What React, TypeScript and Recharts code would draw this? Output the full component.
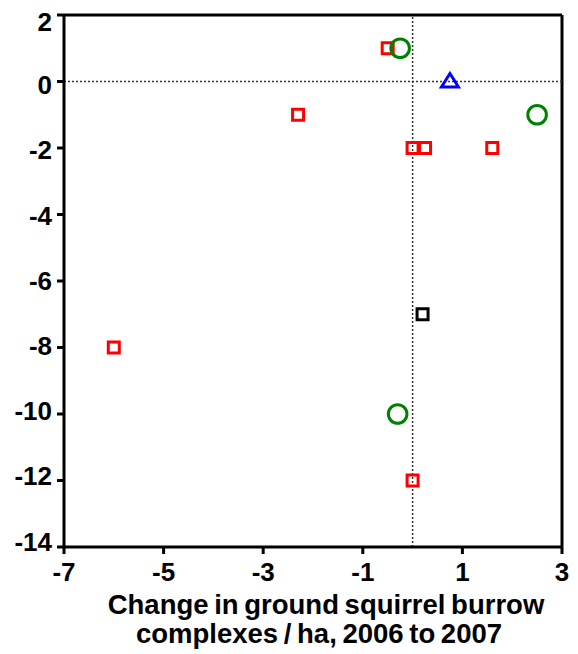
import { ReferenceLine, Scatter, ScatterChart, XAxis, YAxis } from 'recharts'

const FONT = '"Liberation Sans", Arial, sans-serif'

// site groups: change in burrow complexes (x) vs change in count (y)
const redX = [-0.5, -2.3, 0, 0.25, 1.6, -6, 0]
const redY = [1, -1, -2, -2, -2, -8, -12]
const greenX = [-0.25, 2.5, -0.3]
const greenY = [1, -1, -10]
const blueX = [0.75]
const blueY = [0]
const blackX = [0.2]
const blackY = [-7]

const xTicks = [-7, -5, -3, -1, 1, 3]
const yTicks = [-14, -12, -10, -8, -6, -4, -2, 0, 2]

const pts = (xs: number[], ys: number[]) => xs.map((x, i) => ({ x, y: ys[i] }))

const red = pts(redX, redY)
const green = pts(greenX, greenY)
const blue = pts(blueX, blueY)
const black = pts(blackX, blackY)

const square = (color: string) => (p: any) => (
  <rect x={p.cx - 5.5} y={p.cy - 5.5} width={11} height={11} fill="none" stroke={color} strokeWidth={3} />
)
const circle = (p: any) => <circle cx={p.cx} cy={p.cy} r={9.3} fill="none" stroke="#008000" strokeWidth={3} />
const triangle = (p: any) => (
  <path
    d={`M${p.cx},${p.cy - 8} L${p.cx + 8.5},${p.cy + 5.5} L${p.cx - 8.5},${p.cy + 5.5} Z`}
    fill="none"
    stroke="#0000ff"
    strokeWidth={3}
    strokeLinejoin="miter"
  />
)

// labels in the original drift slightly upward relative to their ticks toward the bottom
const YTick = ({ x, y, payload }: any) => (
  <text
    x={x}
    y={y}
    dy={14 - (2 - payload.value) * 0.65}
    textAnchor="end"
    fontFamily={FONT}
    fontWeight="bold"
    fontSize={26}
    fill="#000"
  >
    {payload.value}
  </text>
)

const XTick = ({ x, y, payload }: any) => (
  <text x={x} y={y} dy={19} textAnchor="middle" fontFamily={FONT} fontWeight="bold" fontSize={26} fill="#000">
    {payload.value}
  </text>
)

const XTitle = ({ viewBox }: any) => {
  const cx = viewBox.x + viewBox.width / 2
  return (
    <g fontFamily={FONT} fontWeight="bold" fontSize={27.5} fill="#000" textAnchor="middle" wordSpacing={-2}>
      <text x={cx + 13} y={viewBox.y + 67}>Change in ground squirrel burrow</text>
      <text x={cx + 6} y={viewBox.y + 96}>complexes / ha, 2006 to 2007</text>
    </g>
  )
}

export default function App() {
  return (
    <ScatterChart width={570} height={646} margin={{ top: 7, right: 16, left: 0, bottom: 0 }}>
      <XAxis
        type="number"
        dataKey="x"
        domain={[-7, 3]}
        ticks={xTicks}
        allowDataOverflow
        height={107}
        axisLine={{ stroke: '#000', strokeWidth: 3 }}
        tickLine={{ stroke: '#000', strokeWidth: 3 }}
        tickSize={7}
        tickMargin={8}
        tick={<XTick />}
        label={<XTitle />}
      />
      <YAxis
        type="number"
        dataKey="y"
        domain={[-14, 2]}
        ticks={yTicks}
        allowDataOverflow
        width={56}
        axisLine={{ stroke: '#000', strokeWidth: 3 }}
        tickLine={{ stroke: '#000', strokeWidth: 3 }}
        tickSize={7}
        tickMargin={5}
        tick={<YTick />}
      />
      <ReferenceLine y={2} stroke="#000" strokeWidth={3} />
      <ReferenceLine x={3} stroke="#000" strokeWidth={3} />
      <ReferenceLine y={0} stroke="#333" strokeWidth={1.5} strokeDasharray="2 2" />
      <ReferenceLine x={0} stroke="#333" strokeWidth={1.5} strokeDasharray="2 2" />
      <Scatter data={red} shape={square('#ff0000')} isAnimationActive={false} />
      <Scatter data={green} shape={circle} isAnimationActive={false} />
      <Scatter data={blue} shape={triangle} isAnimationActive={false} />
      <Scatter data={black} shape={square('#000000')} isAnimationActive={false} />
    </ScatterChart>
  )
}
